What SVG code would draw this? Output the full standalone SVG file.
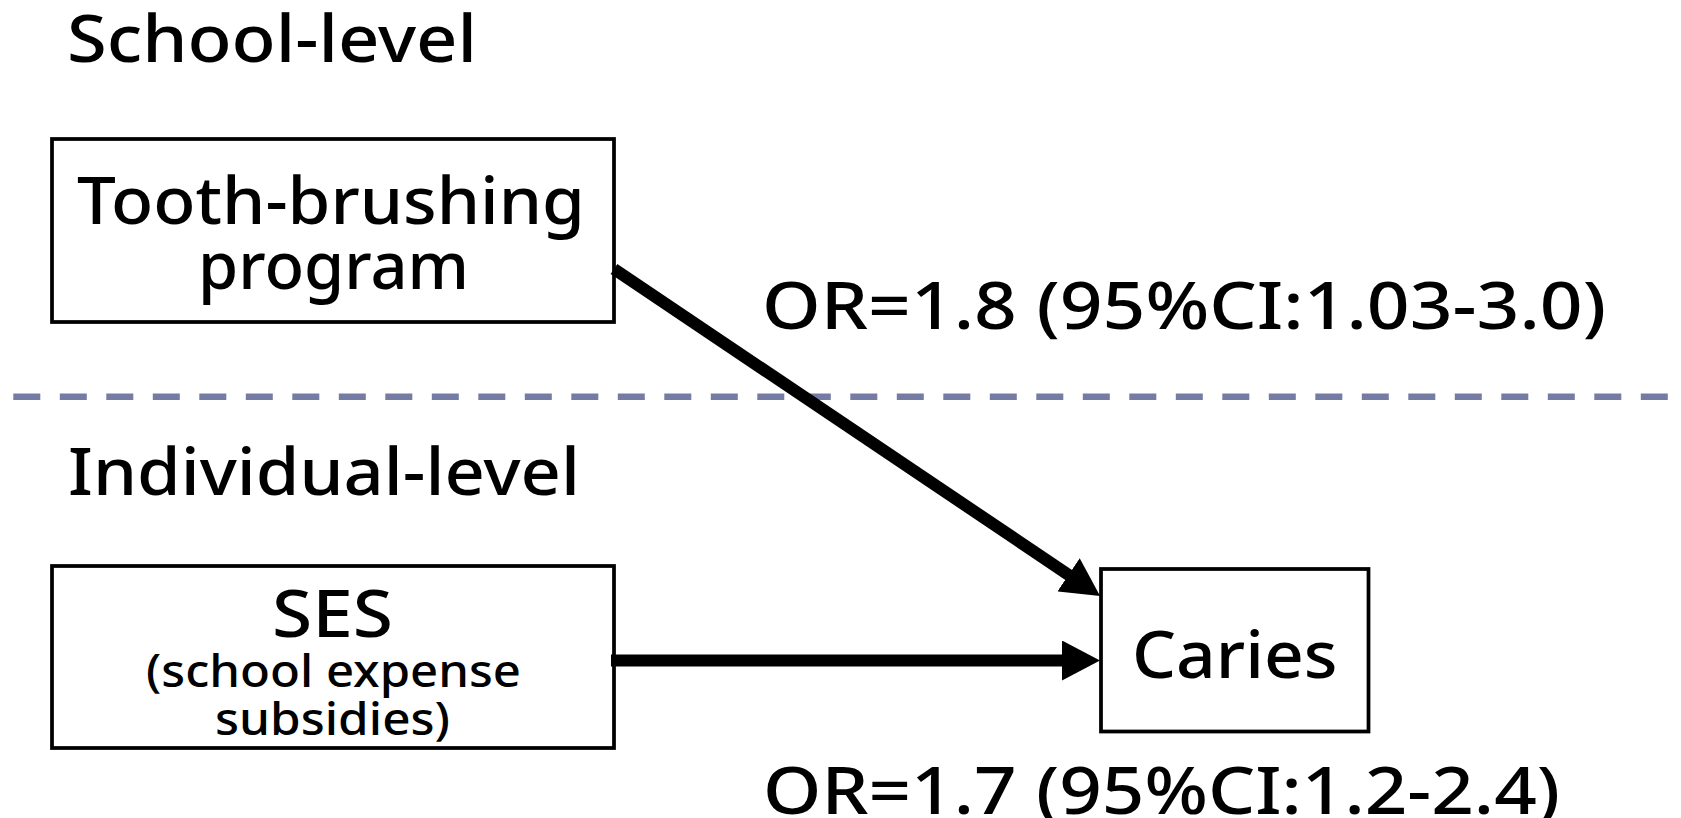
<svg xmlns="http://www.w3.org/2000/svg" width="1681" height="818" viewBox="0 0 1681 818">
  <style>
    text { font-family: "Noto Sans", "Open Sans", "Liberation Sans", sans-serif; fill: #000; font-weight: 500; }
    .big { font-size: 66px; }
    .small { font-size: 46px; }
    .box { fill: #fff; stroke: #000; stroke-width: 3.75; }
    .conn { stroke: #000; stroke-width: 12; fill: none; }
    .divider { stroke: #747ca4; stroke-width: 6.5; stroke-dasharray: 27 19.5; fill: none; }
  </style>
  <defs>
    <marker id="arrow" markerUnits="userSpaceOnUse" markerWidth="40" markerHeight="40" refX="2" refY="20" orient="auto" viewBox="0 0 40 40">
      <path d="M0,0 L38,20 L0,40 Z" fill="#000"/>
    </marker>
  </defs>
  <rect width="1681" height="818" fill="#fff"/>

  <g id="levels">
    <text id="school-level" class="big" x="67" y="62" textLength="410" lengthAdjust="spacingAndGlyphs">School-level</text>
    <line class="divider" x1="13.3" y1="396.7" x2="1681" y2="396.7"/>
    <text id="individual-level" class="big" x="68" y="495" textLength="512" lengthAdjust="spacingAndGlyphs">Individual-level</text>
  </g>

  <g id="node-toothbrushing">
    <rect class="box" x="52" y="139" width="562" height="183"/>
    <text class="big" x="77" y="224" textLength="508" lengthAdjust="spacingAndGlyphs">Tooth-brushing</text>
    <text class="big" x="198" y="289" textLength="271" lengthAdjust="spacingAndGlyphs">program</text>
  </g>

  <g id="node-ses">
    <rect class="box" x="52" y="566" width="562" height="182"/>
    <text class="big" x="272" y="636.5" textLength="121" lengthAdjust="spacingAndGlyphs">SES</text>
    <text class="small" x="146" y="686.5" textLength="375" lengthAdjust="spacingAndGlyphs">(school expense</text>
    <text class="small" x="215" y="735" textLength="235" lengthAdjust="spacingAndGlyphs">subsidies)</text>
  </g>

  <g id="node-caries">
    <rect class="box" x="1101" y="569" width="267.5" height="162.5"/>
    <text class="big" x="1132" y="678" textLength="205.5" lengthAdjust="spacingAndGlyphs">Caries</text>
  </g>

  <g id="connectors">
    <line class="conn" x1="614" y1="269" x2="1070.2" y2="575.9" marker-end="url(#arrow)"/>
    <line class="conn" x1="611" y1="660.5" x2="1064" y2="660.5" marker-end="url(#arrow)"/>
  </g>

  <g id="labels">
    <text id="or-school" class="big" x="762" y="329" textLength="844" lengthAdjust="spacingAndGlyphs">OR=1.8 (95%CI:1.03-3.0)</text>
    <text id="or-ses" class="big" x="763" y="814" textLength="797" lengthAdjust="spacingAndGlyphs">OR=1.7 (95%CI:1.2-2.4)</text>
  </g>
</svg>
